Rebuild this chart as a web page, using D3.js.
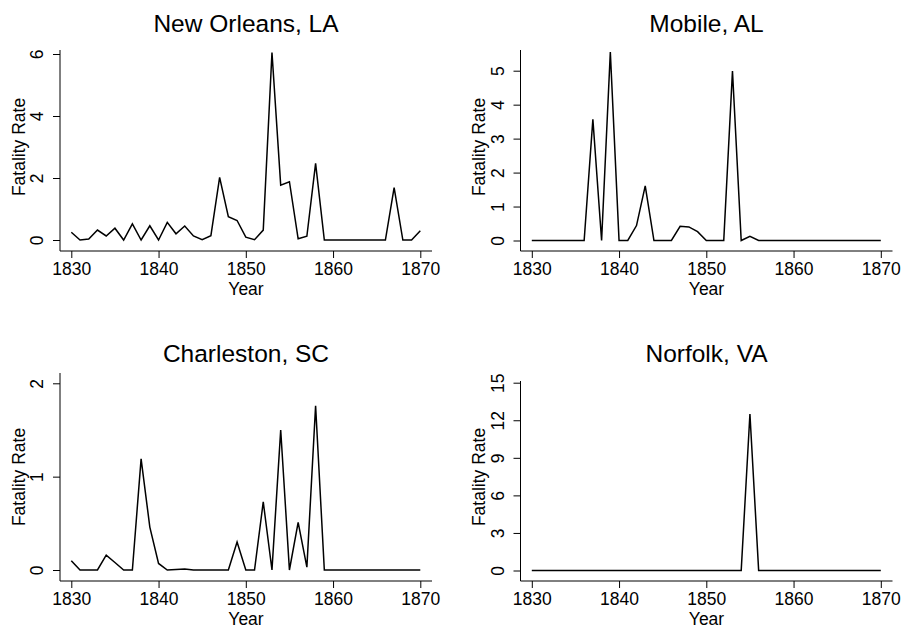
<!DOCTYPE html>
<html>
<head>
<meta charset="utf-8">
<script src="https://cdn.jsdelivr.net/npm/d3@7"></script>
<style>
  html, body { margin: 0; padding: 0; background: #fff; }
  svg { display: block; font-family: "Liberation Sans", Arial, Helvetica, sans-serif; }
</style>
</head>
<body>
<svg id="chart" width="904" height="630"></svg>
<script>
// ---- data ----
const years = [1830,1831,1832,1833,1834,1835,1836,1837,1838,1839,
               1840,1841,1842,1843,1844,1845,1846,1847,1848,1849,
               1850,1851,1852,1853,1854,1855,1856,1857,1858,1859,
               1860,1861,1862,1863,1864,1865,1866,1867,1868,1869,1870];

const newOrleans = [0.25,0,0.03,0.32,0.13,0.38,0,0.52,0,0.46,
                    0,0.57,0.2,0.45,0.13,0.01,0.14,2.02,0.75,0.63,
                    0.09,0.01,0.32,6.05,1.77,1.88,0.04,0.12,2.47,0,
                    0,0,0,0,0,0,0,1.69,0,0,0.3];

const mobile = [0,0,0,0,0,0,0,3.57,0,5.55,
                0,0,0.44,1.61,0,0,0,0.42,0.4,0.26,
                0,0,0,4.99,0,0.12,0,0,0,0,
                0,0,0,0,0,0,0,0,0,0,0];

const charleston = [0.1,0,0,0,0.16,0.08,0,0,1.19,0.46,
                    0.07,0,0.005,0.01,0,0,0,0,0,0.3,
                    0,0,0.73,0,1.5,0,0.51,0.03,1.76,0,
                    0,0,0,0,0,0,0,0,0,0,0];

const norfolk = [0,0,0,0,0,0,0,0,0,0,
                 0,0,0,0,0,0,0,0,0,0,
                 0,0,0,0,0,12.5,0,0,0,0,
                 0,0,0,0,0,0,0,0,0,0,0];

const panelTitles = ["New Orleans, LA", "Mobile, AL", "Charleston, SC", "Norfolk, VA"];
const xTicks = [1830, 1840, 1850, 1860, 1870];
const yTicksNO = [0, 2, 4, 6];
const yTicksMobile = [0, 1, 2, 3, 4, 5];
const yTicksCharleston = [0, 1, 2];
const yTicksNorfolk = [0, 3, 6, 9, 12, 15];
const xLabel = "Year";
const yLabel = "Fatality Rate";

// ---- layout ----
const panels = [
  { title: panelTitles[0], values: newOrleans, yTicks: yTicksNO,         left: 60,  bottom: 251, top: 50,  zeroY: 240, topTickY: 54 },
  { title: panelTitles[1], values: mobile,     yTicks: yTicksMobile,     left: 520.5, bottom: 251, top: 50, zeroY: 240.5, topTickY: 70.7 },
  { title: panelTitles[2], values: charleston, yTicks: yTicksCharleston, left: 60,  bottom: 581, top: 373, zeroY: 570, topTickY: 383.3 },
  { title: panelTitles[3], values: norfolk,    yTicks: yTicksNorfolk,    left: 520.5, bottom: 581, top: 381, zeroY: 570.5, topTickY: 382.7 }
];

const svg = d3.select("#chart");
const fontTick = 17.5, fontTitle = 24.5;

panels.forEach(p => {
  const right = p.left + 372;
  const x = d3.scaleLinear().domain([1830, 1870]).range([p.left + 11.3, p.left + 360.3]);
  const y = d3.scaleLinear().domain([0, d3.max(p.yTicks)]).range([p.zeroY, p.topTickY]);
  const g = svg.append("g");

  // axis lines (L-shaped)
  g.append("path")
    .attr("d", `M${p.left},${p.top}V${p.bottom}H${right}`)
    .attr("fill", "none").attr("stroke", "#000").attr("stroke-width", 1);

  // x axis
  const xa = g.append("g").attr("transform", `translate(0,${p.bottom})`)
    .call(d3.axisBottom(x).tickValues(xTicks).tickFormat(d3.format("d")).tickSize(7).tickSizeOuter(0));
  xa.select(".domain").remove();
  xa.selectAll("line").attr("stroke", "#000");
  xa.selectAll("text").attr("y", 24).attr("dy", null)
    .attr("font-size", fontTick).attr("fill", "#000").attr("font-family", null);

  // y axis
  const ya = g.append("g").attr("transform", `translate(${p.left},0)`)
    .call(d3.axisLeft(y).tickValues(p.yTicks).tickFormat(d3.format("d")).tickSize(7).tickSizeOuter(0));
  ya.select(".domain").remove();
  ya.selectAll("line").attr("stroke", "#000");
  ya.selectAll("text")
    .attr("x", null).attr("dy", null)
    .attr("text-anchor", "middle")
    .attr("transform", "translate(-17,0) rotate(-90)")
    .attr("font-size", fontTick).attr("fill", "#000").attr("font-family", null);

  // axis titles
  g.append("text")
    .attr("x", (p.left + right) / 2).attr("y", p.bottom + 43.5)
    .attr("text-anchor", "middle").attr("font-size", fontTick).attr("fill", "#000")
    .text(xLabel);
  g.append("text")
    .attr("transform", `translate(${p.left - 35.5},${p.bottom - 104}) rotate(-90)`)
    .attr("text-anchor", "middle").attr("font-size", fontTick).attr("fill", "#000")
    .text(yLabel);

  // panel title
  g.append("text")
    .attr("x", (p.left + right) / 2).attr("y", p.bottom - 218.7)
    .attr("text-anchor", "middle").attr("font-size", fontTitle).attr("fill", "#000")
    .text(p.title);

  // series line
  const line = d3.line().x((d, i) => x(years[i])).y(d => y(d));
  g.append("path")
    .datum(p.values)
    .attr("d", line)
    .attr("fill", "none").attr("stroke", "#000").attr("stroke-width", 1.5)
    .attr("stroke-linejoin", "miter");
});
</script>
</body>
</html>
